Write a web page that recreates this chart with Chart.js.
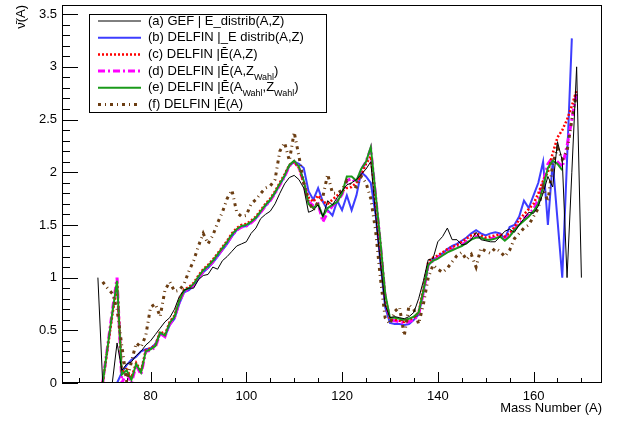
<!DOCTYPE html>
<html>
<head>
<meta charset="utf-8">
<script src="https://cdn.jsdelivr.net/npm/chart.js@4.4.0/dist/chart.umd.min.js"></script>
<style>
  body { margin: 0; background: #fff; }
</style>
</head>
<body>
<canvas id="nuChart" width="631" height="421"></canvas>
<script>
// mass numbers A = 69 ... 170
const massNumbers = [
  69, 70, 71, 72, 73, 74, 75, 76, 77, 78,
  79, 80, 81, 82, 83, 84, 85, 86, 87, 88,
  89, 90, 91, 92, 93, 94, 95, 96, 97, 98,
  99, 100, 101, 102, 103, 104, 105, 106, 107, 108,
  109, 110, 111, 112, 113, 114, 115, 116, 117, 118,
  119, 120, 121, 122, 123, 124, 125, 126, 127, 128,
  129, 130, 131, 132, 133, 134, 135, 136, 137, 138,
  139, 140, 141, 142, 143, 144, 145, 146, 147, 148,
  149, 150, 151, 152, 153, 154, 155, 156, 157, 158,
  159, 160, 161, 162, 163, 164, 165, 166, 167, 168,
  169, 170
];

// (a) GEF
const gefValues = [
  1.0, 0, 0, 0, 0.38, 0.12, 0.18, 0.2, 0.26, 0.3,
  0.36, 0.4, 0.46, 0.52, 0.58, 0.62, 0.7, 0.82, 0.88, 0.9,
  0.9, 0.98, 1.02, 1.03, 1.1, 1.08, 1.16, 1.2, 1.25, 1.3,
  1.32, 1.34, 1.42, 1.47, 1.56, 1.6, 1.63, 1.7, 1.8, 1.89,
  1.95, 1.97, 1.93, 1.85, 1.62, 1.64, 1.69, 1.58, 1.73, 1.69,
  1.76, 1.82, 1.88, 1.9, 1.93, 1.98, 2.03, 2.1, 1.6, 1.15,
  0.74, 0.62, 0.63, 0.62, 0.61, 0.63, 0.67, 0.8, 0.97, 1.17,
  1.18, 1.34, 1.39, 1.47, 1.36, 1.36, 1.31, 1.32, 1.36, 1.43,
  1.36, 1.35, 1.34, 1.34, 1.39, 1.44, 1.46, 1.43, 1.5, 1.56,
  1.62, 1.61, 1.68, 1.8, 1.96, 1.86, 2.29, 2.11, 1.0, 2.0,
  3.0, 1.0
];

// (b) DELFIN, E distrib
const delfinDistribValues = [
  null, 0, 0, 0, 0, 0.1, 0.17, 0.22, 0.25, 0.3,
  0.32, 0.33, 0.37, 0.47, 0.44, 0.55, 0.61, 0.75, 0.86, 0.88,
  0.92, 0.99, 1.05, 1.09, 1.14, 1.2, 1.26, 1.32, 1.39, 1.45,
  1.48, 1.49, 1.52, 1.56, 1.62, 1.68, 1.73, 1.8, 1.88, 1.96,
  2.06, 2.1, 2.08, 2.04, 1.82, 1.74, 1.85, 1.72, 1.64, 1.59,
  1.73, 1.64, 1.78, 1.64, 1.78, 2.0, 1.96, 1.9, 1.6, 1.15,
  0.72, 0.57, 0.56, 0.56, 0.55, 0.56, 0.6, 0.65, 0.86, 1.12,
  1.17, 1.2, 1.23, 1.27, 1.3, 1.32, 1.35, 1.38, 1.42, 1.45,
  1.42, 1.4, 1.42, 1.43, 1.42, 1.37, 1.48, 1.5, 1.58, 1.73,
  1.66, 1.78, 1.9, 2.1, 1.5, 2.1, 1.55, 1.0, 2.12, 3.27,
  null, null
];

// (c) DELFIN, Ebar(A,Z)
const delfinAZValues = [
  null, 0, 0.32, 0.64, 0.95, 0.1, 0.13, 0.05, 0.19, 0.11,
  0.31, 0.33, 0.36, 0.49, 0.46, 0.58, 0.64, 0.79, 0.89, 0.91,
  0.95, 1.02, 1.08, 1.12, 1.17, 1.23, 1.29, 1.35, 1.42, 1.47,
  1.5, 1.51, 1.54, 1.58, 1.64, 1.7, 1.75, 1.82, 1.9, 1.98,
  2.07, 2.1, 2.04, 1.9, 1.76, 1.72, 1.78, 1.72, 1.7, 1.74,
  1.78, 1.82, 1.85, 1.86, 1.9, 1.97, 2.08, 2.15, 1.75, 1.3,
  0.82, 0.6, 0.6, 0.59, 0.58, 0.6, 0.62, 0.67, 0.9, 1.15,
  1.19, 1.21, 1.24, 1.27, 1.29, 1.31, 1.34, 1.37, 1.4, 1.42,
  1.4, 1.38, 1.39, 1.4, 1.41, 1.39, 1.42, 1.48, 1.55, 1.6,
  1.65, 1.7, 1.8, 1.92, 2.0, 2.18, 2.33, 2.4, 2.5, 2.63,
  2.78, null
];

// (d) DELFIN, Ebar(A,Z_Wahl)
const delfinAZWahlValues = [
  null, 0, 0.34, 0.68, 1.0, 0, 0.1, 0, 0.17, 0.08,
  0.3, 0.31, 0.34, 0.47, 0.44, 0.56, 0.62, 0.77, 0.87, 0.89,
  0.93, 1.0, 1.06, 1.1, 1.15, 1.21, 1.27, 1.33, 1.4, 1.45,
  1.48, 1.49, 1.52, 1.56, 1.62, 1.68, 1.73, 1.8, 1.88, 1.96,
  2.06, 2.1, 2.04, 1.9, 1.72, 1.68, 1.7, 1.53, 1.62, 1.68,
  1.72, 1.79, 1.92, 1.94, 1.9, 2.02, 2.1, 2.22, 1.78, 1.32,
  0.82, 0.6, 0.59, 0.58, 0.57, 0.58, 0.6, 0.65, 0.86, 1.12,
  1.16, 1.19, 1.22, 1.25, 1.27, 1.29, 1.31, 1.34, 1.37, 1.39,
  1.38, 1.37, 1.37, 1.38, 1.4, 1.37, 1.4, 1.46, 1.51, 1.56,
  1.6, 1.65, 1.74, 1.9, 2.08, 2.14, 2.1, 2.05, 2.25, 2.5,
  2.76, null
];

// (e) DELFIN, Ebar(A_Wahl,Z_Wahl)
const delfinWahlValues = [
  null, 0, 0.33, 0.66, 0.97, 0.08, 0.12, 0.03, 0.18, 0.1,
  0.3, 0.32, 0.35, 0.48, 0.45, 0.57, 0.63, 0.78, 0.88, 0.9,
  0.94, 1.01, 1.07, 1.11, 1.16, 1.22, 1.28, 1.34, 1.41, 1.46,
  1.49, 1.5, 1.53, 1.57, 1.63, 1.69, 1.74, 1.81, 1.89, 1.97,
  2.07, 2.11, 2.05, 1.92, 1.7, 1.66, 1.7, 1.58, 1.66, 1.69,
  1.72, 1.8, 1.96, 1.96, 1.92, 2.03, 2.1, 2.24, 1.8, 1.35,
  0.85, 0.62, 0.62, 0.61, 0.6, 0.61, 0.63, 0.67, 0.88, 1.12,
  1.16, 1.18, 1.21, 1.24, 1.26, 1.28, 1.3, 1.33, 1.36, 1.38,
  1.38, 1.36, 1.36, 1.37, 1.39, 1.35, 1.39, 1.45, 1.5, 1.54,
  1.58, 1.63, 1.7, 1.86, 2.04, 2.11, 2.08, 2.02, null, null,
  null, null
];

// (f) DELFIN, Ebar(A)
const delfinAValues = [
  null, 0.96, 0.9, 0.85, 0.7, 0.35, 0.02, 0.2, 0.38, 0.34,
  0.45, 0.72, 0.75, 0.63, 0.88, 0.96, 0.87, 0.88, 0.94, 1.06,
  1.16, 1.3, 1.42, 1.32, 1.4, 1.52, 1.62, 1.75, 1.83, 1.62,
  1.58, 1.59, 1.7, 1.74, 1.8, 1.85, 1.87, 1.93, 2.2, 2.28,
  2.11, 2.38, 2.15, 1.9, 1.72, 1.64, 1.72, 1.77, 1.98, 1.8,
  1.8, 1.83, 1.92, 1.88, 1.86, 1.96, 1.9, 1.75, 1.45, 1.0,
  0.62, 0.56, 0.68, 0.72, 0.45, 0.74, 0.7, 0.56, 0.75, 1.0,
  1.12, 1.08, 1.05, 1.09, 1.15, 1.21, 1.24, 1.17, 1.22, 1.1,
  1.28, 1.25, 1.23, 1.28, 1.25, 1.2, 1.26, 1.37, 1.42, 1.47,
  1.5, 1.58, 1.66, 1.86, 1.72, 2.08, 2.23, 2.12, 2.2, 2.5,
  2.75, null
];

// legend texts, _{...} is a subscript
const seriesLabels = [
  "(a) GEF | E_distrib(A,Z)",
  "(b) DELFIN |_E distrib(A,Z)",
  "(c) DELFIN |Ē(A,Z)",
  "(d) DELFIN |Ē(A,Z_{Wahl})",
  "(e) DELFIN |Ē(A_{Wahl},Z_{Wahl})",
  "(f) DELFIN |Ē(A)"
];

const xTickLabels = [80, 100, 120, 140, 160];
const yTickLabels = [0, 0.5, 1, 1.5, 2, 2.5, 3, 3.5];

const FONT = '"Liberation Sans", Arial, sans-serif';

function toPoints(values) {
  return massNumbers.map((a, i) => ({ x: a, y: values[i] }));
}

const datasets = [
  { label: seriesLabels[0], data: toPoints(gefValues), borderColor: "#000000", borderWidth: 1, borderDash: [], order: 0 },
  { label: seriesLabels[1], data: toPoints(delfinDistribValues), borderColor: "#3d3dff", borderWidth: 2, borderDash: [], order: 5 },
  { label: seriesLabels[2], data: toPoints(delfinAZValues), borderColor: "#ff0000", borderWidth: 2.5, borderDash: [2, 2], order: 3 },
  { label: seriesLabels[3], data: toPoints(delfinAZWahlValues), borderColor: "#ff00ff", borderWidth: 3, borderDash: [7, 3, 2, 3], order: 4 },
  { label: seriesLabels[4], data: toPoints(delfinWahlValues), borderColor: "#1a9a1a", borderWidth: 2, borderDash: [], order: 2 },
  { label: seriesLabels[5], data: toPoints(delfinAValues), borderColor: "#6b3d12", borderWidth: 3, borderDash: [3, 4, 1, 4], order: 1 }
];

// draw text with _{sub} parts
function drawRich(ctx, text, x, y) {
  const parts = text.split(/(_\{[^}]*\})/);
  parts.forEach(p => {
    if (!p) return;
    if (p.startsWith("_{")) {
      const s = p.slice(2, -1);
      ctx.font = "9px " + FONT;
      ctx.fillText(s, x, y + 6);
      x += ctx.measureText(s).width;
    } else {
      ctx.font = "13px " + FONT;
      ctx.fillText(p, x, y);
      x += ctx.measureText(p).width;
    }
  });
}

const rootFrame = {
  id: "rootFrame",
  beforeDatasetsDraw(chart) {
    const { ctx, chartArea: a, scales } = chart;
    ctx.save();
    ctx.strokeStyle = "#000";
    ctx.lineWidth = 1;
    ctx.beginPath();
    for (let k = 0; k <= 35; k++) {
      const py = Math.round(scales.y.getPixelForValue(k / 10)) + 0.5;
      const len = k % 5 === 0 ? 16 : 8;
      ctx.moveTo(a.left, py);
      ctx.lineTo(a.left + len, py);
    }
    for (let m = 65; m <= 170; m += 5) {
      const px = Math.round(scales.x.getPixelForValue(m)) + 0.5;
      const len = m % 20 === 0 ? 11 : 5;
      ctx.moveTo(px, a.bottom);
      ctx.lineTo(px, a.bottom - len);
    }
    ctx.stroke();
    ctx.restore();
  },
  afterDraw(chart) {
    const { ctx, chartArea: a } = chart;
    ctx.save();
    ctx.strokeStyle = "#000";
    ctx.lineWidth = 1;
    ctx.strokeRect(Math.round(a.left) + 0.5, Math.round(a.top) + 0.5,
      Math.round(a.right - a.left) - 1, Math.round(a.bottom - a.top) - 1);

    // legend box
    ctx.fillStyle = "#fff";
    ctx.fillRect(89.5, 14.5, 237, 98);
    ctx.strokeRect(89.5, 14.5, 237, 98);
    ctx.textBaseline = "middle";
    chart.data.datasets.forEach((ds, i) => {
      const y = 21 + i * 16.7;
      ctx.strokeStyle = ds.borderColor;
      ctx.lineWidth = ds.borderWidth;
      ctx.setLineDash(ds.borderDash);
      ctx.beginPath();
      ctx.moveTo(98, y);
      ctx.lineTo(141, y);
      ctx.stroke();
      ctx.setLineDash([]);
      ctx.fillStyle = "#000";
      drawRich(ctx, ds.label, 148, y);
    });
    ctx.restore();
  }
};

new Chart(document.getElementById("nuChart"), {
  type: "line",
  data: { datasets: datasets },
  options: {
    responsive: false,
    animation: false,
    devicePixelRatio: 1,
    layout: { padding: { top: 5, right: 29, left: 0, bottom: 0 } },
    elements: {
      point: { radius: 0, hoverRadius: 0 },
      line: { tension: 0, fill: false, borderCapStyle: "butt" }
    },
    plugins: {
      legend: { display: false },
      tooltip: { enabled: false }
    },
    scales: {
      x: {
        type: "linear",
        min: 61.5,
        max: 174.3,
        grid: { display: false, drawTicks: false },
        border: { display: false },
        afterBuildTicks: s => { s.ticks = xTickLabels.map(v => ({ value: v })); },
        afterFit: s => { s.height = 38; s.paddingLeft = 0; s.paddingRight = 0; },
        ticks: {
          color: "#000",
          font: { family: FONT, size: 13 },
          padding: 6,
          maxRotation: 0,
          callback: v => String(v)
        },
        title: {
          display: true,
          text: "Mass Number (A)",
          align: "end",
          color: "#000",
          font: { family: FONT, size: 13 },
          padding: { top: 0, bottom: 5 }
        }
      },
      y: {
        min: 0,
        max: 3.587,
        grid: { display: false, drawTicks: false },
        border: { display: false },
        afterBuildTicks: s => { s.ticks = yTickLabels.map(v => ({ value: v })); },
        afterFit: s => { s.width = 62; s.paddingTop = 0; s.paddingBottom = 0; },
        ticks: {
          color: "#000",
          font: { family: FONT, size: 13 },
          padding: 5,
          callback: v => String(v)
        },
        title: {
          display: true,
          text: "ν̄(A)",
          align: "end",
          color: "#000",
          font: { family: FONT, size: 13 },
          padding: { top: 14, bottom: 0 }
        }
      }
    }
  },
  plugins: [rootFrame]
});
</script>
</body>
</html>
